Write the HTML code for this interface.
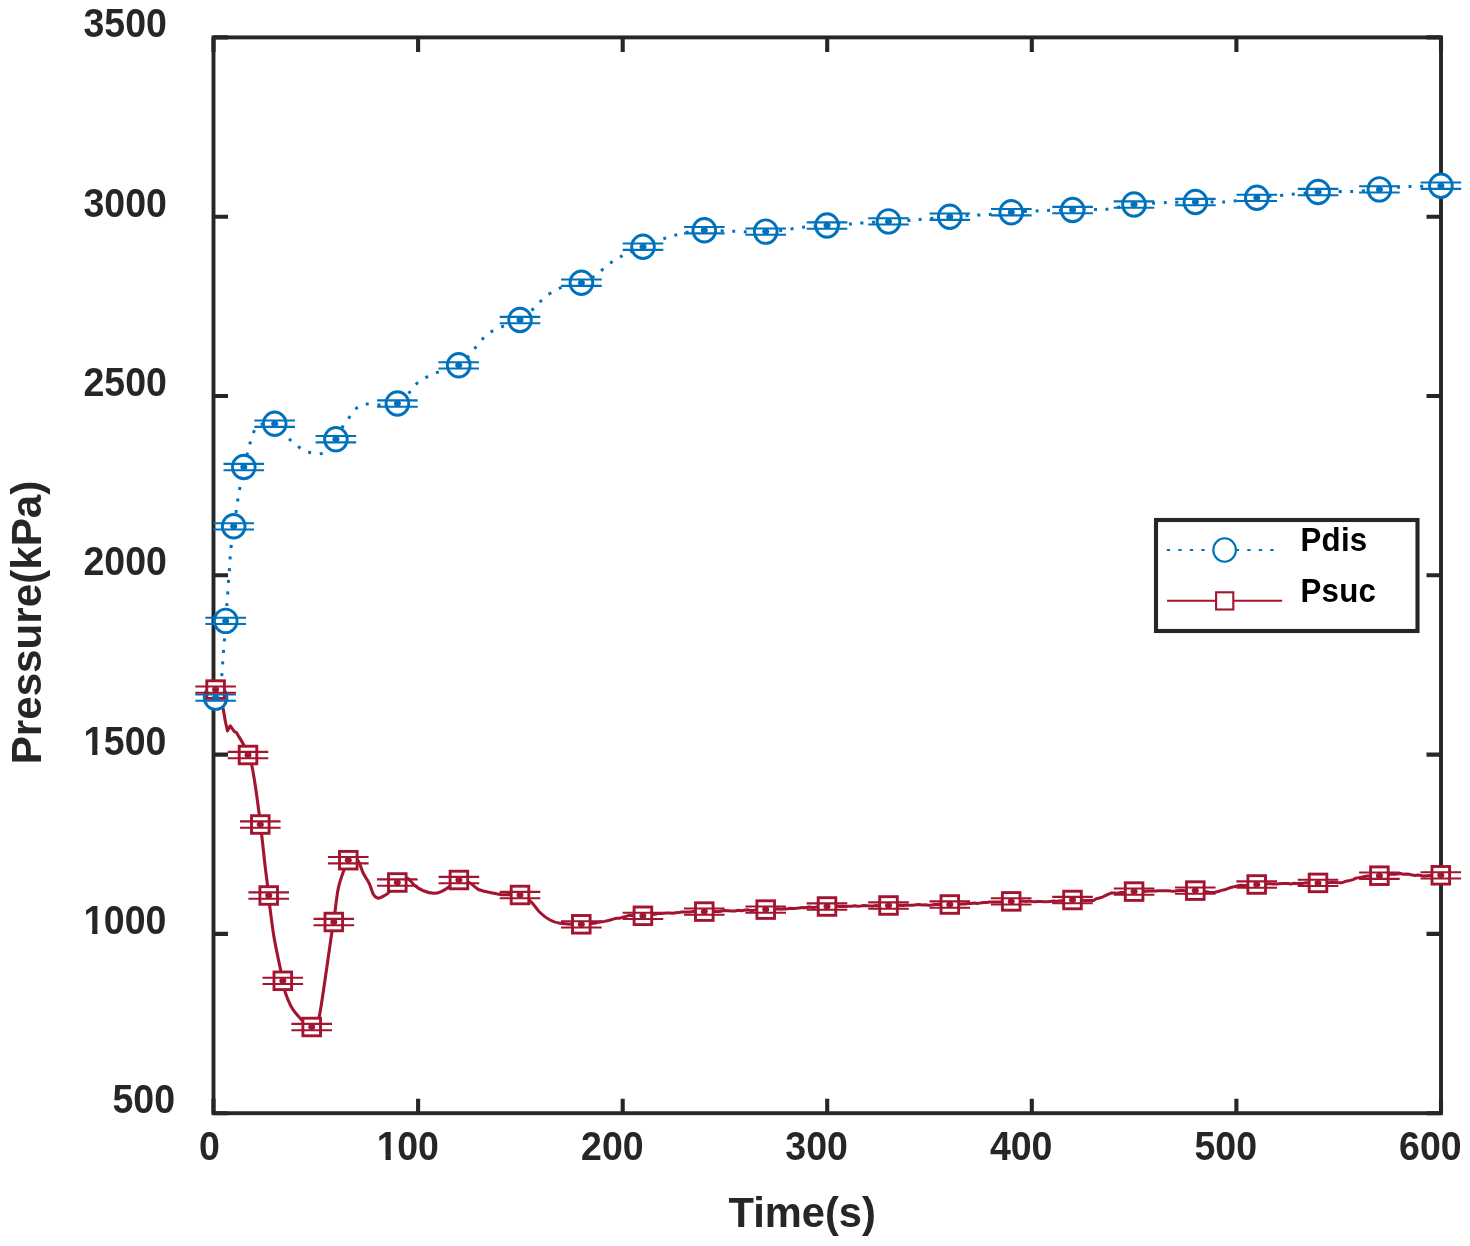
<!DOCTYPE html>
<html lang="en"><head><meta charset="utf-8"><title>Pressure vs Time</title>
<style>html,body{margin:0;padding:0;background:#fff}svg{display:block}</style></head><body>
<svg width="1470" height="1246" viewBox="0 0 1470 1246">
<rect width="1470" height="1246" fill="#fff"/>
<g stroke="#262626" stroke-width="4.1" fill="none" stroke-linecap="butt">
<rect x="213.5" y="37.4" width="1227.5" height="1075.8" stroke-width="3.9"/>
<path d="M213.5 1113.2 V1098.7 M213.5 37.4 V51.9"/>
<path d="M213.5 1113.2 H228.0 M1441.0 1113.2 H1426.5"/>
<path d="M418.1 1113.2 V1098.7 M418.1 37.4 V51.9"/>
<path d="M213.5 933.9 H228.0 M1441.0 933.9 H1426.5"/>
<path d="M622.7 1113.2 V1098.7 M622.7 37.4 V51.9"/>
<path d="M213.5 754.6 H228.0 M1441.0 754.6 H1426.5"/>
<path d="M827.2 1113.2 V1098.7 M827.2 37.4 V51.9"/>
<path d="M213.5 575.3 H228.0 M1441.0 575.3 H1426.5"/>
<path d="M1031.8 1113.2 V1098.7 M1031.8 37.4 V51.9"/>
<path d="M213.5 396.0 H228.0 M1441.0 396.0 H1426.5"/>
<path d="M1236.4 1113.2 V1098.7 M1236.4 37.4 V51.9"/>
<path d="M213.5 216.7 H228.0 M1441.0 216.7 H1426.5"/>
<path d="M1441.0 1113.2 V1098.7 M1441.0 37.4 V51.9"/>
<path d="M213.5 37.4 H228.0 M1441.0 37.4 H1426.5"/>
</g>
<g font-family="Liberation Sans, Arial, Helvetica, sans-serif" font-weight="bold" font-size="37.5" fill="#262626">
<text transform="translate(199.10 1160.00) scale(1 1.06)">0</text>
<text transform="translate(376.80 1160.00) scale(1 1.06)">1</text><rect x="377.70" y="1154.80" width="7.8" height="6.4" fill="#fff"/><rect x="390.75" y="1154.80" width="6.6" height="6.4" fill="#fff"/><text transform="translate(397.15 1160.00) scale(1 1.06)">00</text>
<text transform="translate(581.10 1160.00) scale(1 1.06)">200</text>
<text transform="translate(785.30 1160.00) scale(1 1.06)">300</text>
<text transform="translate(989.90 1160.00) scale(1 1.06)">400</text>
<text transform="translate(1194.50 1160.00) scale(1 1.06)">500</text>
<text transform="translate(1399.10 1160.00) scale(1 1.06)">600</text>
<text transform="translate(83.50 37.30) scale(1 1.06)">3500</text>
<text transform="translate(83.50 216.60) scale(1 1.06)">3000</text>
<text transform="translate(83.50 395.90) scale(1 1.06)">2500</text>
<text transform="translate(83.50 575.20) scale(1 1.06)">2000</text>
<text transform="translate(83.50 754.50) scale(1 1.06)">1</text><rect x="84.40" y="749.30" width="7.8" height="6.4" fill="#fff"/><rect x="97.45" y="749.30" width="6.6" height="6.4" fill="#fff"/><text transform="translate(103.85 754.50) scale(1 1.06)">500</text>
<text transform="translate(83.50 933.80) scale(1 1.06)">1</text><rect x="84.40" y="928.60" width="7.8" height="6.4" fill="#fff"/><rect x="97.45" y="928.60" width="6.6" height="6.4" fill="#fff"/><text transform="translate(103.85 933.80) scale(1 1.06)">000</text>
<text transform="translate(112.50 1113.10) scale(1 1.06)">500</text>
</g>
<g font-family="Liberation Sans, Arial, Helvetica, sans-serif" font-weight="bold" font-size="41.67" fill="#262626">
<text transform="translate(728.50 1226.60) scale(1 1.03)">Time(s)</text>
<text transform="translate(41.2,764.3) rotate(-90) scale(1.012 1)">Pressure(kPa)</text>
</g>
<path d="M215.60 697.60 C216.25 697.00 218.57 695.93 219.50 694.00 C220.43 692.07 220.80 689.25 221.20 686.00 C221.60 682.75 221.65 678.38 221.90 674.50 C222.15 670.62 222.43 666.57 222.70 662.70 C222.97 658.83 223.20 655.18 223.50 651.30 C223.80 647.42 224.13 644.47 224.50 639.40 C224.87 634.33 225.30 626.77 225.70 620.90 C226.10 615.03 226.55 608.97 226.90 604.20 C227.25 599.43 227.53 596.23 227.80 592.30 C228.07 588.37 228.22 584.53 228.50 580.60 C228.78 576.67 229.22 572.63 229.50 568.70 C229.78 564.77 229.90 560.95 230.20 557.00 C230.50 553.05 230.72 550.12 231.30 545.00 C231.88 539.88 232.87 532.08 233.70 526.30 C234.53 520.52 235.58 514.90 236.30 510.30 C237.02 505.70 237.38 502.55 238.00 498.70 C238.62 494.85 239.03 492.48 240.00 487.20 C240.97 481.92 242.55 472.73 243.80 467.00 C245.05 461.27 246.38 457.02 247.50 452.80 C248.62 448.58 249.30 445.50 250.50 441.70 C251.70 437.90 253.12 432.78 254.70 430.00 C256.28 427.22 257.95 426.12 260.00 425.00 C262.05 423.88 264.55 423.52 267.00 423.30 C269.45 423.08 272.20 422.42 274.70 423.70 C277.20 424.98 279.50 428.37 282.00 431.00 C284.50 433.63 286.92 436.83 289.70 439.50 C292.48 442.17 295.52 444.88 298.70 447.00 C301.88 449.12 305.25 451.07 308.80 452.20 C312.35 453.33 316.63 454.33 320.00 453.80 C323.37 453.27 326.35 451.43 329.00 449.00 C331.65 446.57 333.78 442.65 335.90 439.20 C338.02 435.75 339.63 431.72 341.70 428.30 C343.77 424.88 346.03 421.88 348.30 418.70 C350.57 415.52 352.52 411.62 355.30 409.20 C358.08 406.78 361.43 404.90 365.00 404.20 C368.57 403.50 372.87 404.90 376.70 405.00 C380.53 405.10 384.55 405.05 388.00 404.80 C391.45 404.55 394.07 405.27 397.40 403.50 C400.73 401.73 405.07 397.28 408.00 394.20 C410.93 391.12 412.25 387.65 415.00 385.00 C417.75 382.35 421.22 380.25 424.50 378.30 C427.78 376.35 430.95 374.77 434.70 373.30 C438.45 371.83 443.00 370.83 447.00 369.50 C451.00 368.17 455.53 367.05 458.70 365.30 C461.87 363.55 463.57 361.47 466.00 359.00 C468.43 356.53 470.88 353.47 473.30 350.50 C475.72 347.53 477.92 344.07 480.50 341.20 C483.08 338.33 485.77 335.50 488.80 333.30 C491.83 331.10 495.17 329.55 498.70 328.00 C502.23 326.45 506.45 325.33 510.00 324.00 C513.55 322.67 516.83 321.83 520.00 320.00 C523.17 318.17 526.08 315.58 529.00 313.00 C531.92 310.42 534.70 307.28 537.50 304.50 C540.30 301.72 542.75 298.67 545.80 296.30 C548.85 293.93 552.88 291.90 555.80 290.30 C558.72 288.70 560.60 287.67 563.30 286.70 C566.00 285.73 568.98 285.17 572.00 284.50 C575.02 283.83 578.40 283.62 581.40 282.70 C584.40 281.78 587.18 280.57 590.00 279.00 C592.82 277.43 595.47 275.55 598.30 273.30 C601.13 271.05 604.00 267.85 607.00 265.50 C610.00 263.15 613.08 261.15 616.30 259.20 C619.52 257.25 621.85 255.88 626.30 253.80 C630.75 251.72 637.75 248.90 643.00 246.70 C648.25 244.50 653.37 242.23 657.80 240.60 C662.23 238.97 665.70 238.08 669.60 236.90 C673.50 235.72 677.30 234.45 681.20 233.50 C685.10 232.55 689.15 231.75 693.00 231.20 C696.85 230.65 698.78 230.23 704.30 230.20 C709.82 230.17 720.60 230.80 726.10 231.00 C731.60 231.20 733.55 231.23 737.30 231.40 C741.05 231.57 743.87 231.97 748.60 232.00 C753.33 232.03 759.92 231.87 765.70 231.60 C771.48 231.33 778.50 230.93 783.30 230.40 C788.10 229.87 790.77 228.98 794.50 228.40 C798.23 227.82 800.28 227.38 805.70 226.90 C811.12 226.42 819.35 226.00 827.00 225.50 C834.65 225.00 845.62 224.33 851.60 223.90 C857.58 223.47 856.75 223.32 862.90 222.90 C869.05 222.48 880.85 221.82 888.50 221.40 C896.15 220.98 903.55 220.73 908.80 220.40 C914.05 220.07 913.17 220.02 920.00 219.40 C926.83 218.78 940.20 217.42 949.80 216.70 C959.40 215.98 971.03 215.47 977.60 215.10 C984.17 214.73 983.58 214.98 989.20 214.50 C994.82 214.02 1003.72 212.78 1011.30 212.20 C1018.88 211.62 1028.83 211.30 1034.70 211.00 C1040.57 210.70 1040.18 210.57 1046.50 210.40 C1052.82 210.23 1065.05 210.17 1072.60 210.00 C1080.15 209.83 1086.62 209.47 1091.80 209.40 C1096.98 209.33 1099.33 209.92 1103.70 209.60 C1108.07 209.28 1112.95 208.35 1118.00 207.50 C1123.05 206.65 1126.80 205.27 1134.00 204.50 C1141.20 203.73 1154.80 203.25 1161.20 202.90 C1167.60 202.55 1166.70 202.55 1172.40 202.40 C1178.10 202.25 1187.77 202.07 1195.40 202.00 C1203.03 201.93 1212.50 202.07 1218.20 202.00 C1223.90 201.93 1223.17 202.30 1229.60 201.60 C1236.03 200.90 1247.35 198.92 1256.80 197.80 C1266.25 196.68 1276.08 195.87 1286.30 194.90 C1296.52 193.93 1308.57 192.58 1318.10 192.00 C1327.63 191.42 1337.30 191.50 1343.50 191.40 C1349.70 191.30 1349.32 191.73 1355.30 191.40 C1361.28 191.07 1371.85 190.15 1379.40 189.40 C1386.95 188.65 1395.10 187.38 1400.60 186.90 C1406.10 186.42 1405.68 186.70 1412.40 186.50 C1419.12 186.30 1436.15 185.83 1440.90 185.70" fill="none" stroke="#0072BD" stroke-width="3.0" stroke-dasharray="3.0 8.7" stroke-linejoin="round"/>
<path d="M215.60 689.60 C216.33 691.33 218.77 696.88 220.00 700.00 C221.23 703.12 222.08 704.63 223.00 708.30 C223.92 711.97 224.75 718.25 225.50 722.00 L227.50 730.80 L228.50 729.00 L230.30 725.80 L232.80 729.30 C233.48 730.27 233.83 731.08 234.40 731.60 C234.97 732.12 235.57 731.75 236.20 732.40 C236.83 733.05 236.95 733.40 238.20 735.50 C239.45 737.60 242.07 741.75 243.70 745.00 C245.33 748.25 246.67 751.67 248.00 755.00 C249.33 758.33 250.45 759.67 251.70 765.00 C252.95 770.33 254.25 778.80 255.50 787.00 C256.75 795.20 258.40 807.95 259.20 814.20 C260.00 820.45 259.88 821.03 260.30 824.50 C260.72 827.97 260.87 827.80 261.70 835.00 C262.53 842.20 264.33 859.37 265.30 867.70 C266.27 876.03 266.93 880.37 267.50 885.00 C268.07 889.63 268.33 892.03 268.70 895.50 C269.07 898.97 268.78 898.67 269.70 905.80 C270.62 912.93 272.35 927.47 274.20 938.30 C276.05 949.13 279.37 963.72 280.80 970.80 C282.23 977.88 282.15 977.47 282.80 980.80 C283.45 984.13 283.22 986.35 284.70 990.80 C286.18 995.25 288.87 1002.63 291.70 1007.50 C294.53 1012.37 298.98 1016.92 301.70 1020.00 C304.42 1023.08 306.33 1024.75 308.00 1026.00 C309.67 1027.25 310.53 1027.67 311.70 1027.50 C312.87 1027.33 313.75 1026.80 315.00 1025.00 C316.25 1023.20 317.53 1024.20 319.20 1016.70 C320.87 1009.20 322.92 993.90 325.00 980.00 C327.08 966.10 330.23 942.97 331.70 933.30 C333.17 923.63 333.25 925.60 333.80 922.00 C334.35 918.40 334.25 917.32 335.00 911.70 C335.75 906.08 336.85 895.12 338.30 888.30 C339.75 881.48 342.03 875.48 343.70 870.80 C345.37 866.12 346.67 862.42 348.30 860.20 C349.93 857.98 351.77 857.25 353.50 857.50 C355.23 857.75 357.07 859.07 358.70 861.70 C360.33 864.33 361.55 869.70 363.30 873.30 C365.05 876.90 367.53 879.82 369.20 883.30 C370.87 886.78 371.92 891.75 373.30 894.20 C374.68 896.65 376.10 897.53 377.50 898.00 C378.90 898.47 379.90 897.83 381.70 897.00 C383.50 896.17 386.42 894.83 388.30 893.00 C390.18 891.17 391.22 888.33 393.00 886.00 C394.78 883.67 396.58 880.28 399.00 879.00 C401.42 877.72 404.83 877.17 407.50 878.30 C410.17 879.43 412.37 883.72 415.00 885.80 C417.63 887.88 420.10 889.55 423.30 890.80 C426.50 892.05 431.13 893.22 434.20 893.30 C437.27 893.38 439.20 892.40 441.70 891.30 C444.20 890.20 446.98 888.33 449.20 886.70 C451.42 885.07 453.20 882.70 455.00 881.50 C456.80 880.30 457.63 879.33 460.00 879.50 C462.37 879.67 466.42 881.03 469.20 882.50 C471.98 883.97 474.90 887.05 476.70 888.30 C478.50 889.55 477.78 889.30 480.00 890.00 C482.22 890.70 486.38 891.72 490.00 892.50 C493.62 893.28 496.70 894.28 501.70 894.70 C506.70 895.12 515.15 893.83 520.00 895.00 C524.85 896.17 527.47 898.78 530.80 901.70 C534.13 904.62 536.80 909.45 540.00 912.50 C543.20 915.55 546.67 918.20 550.00 920.00 C553.33 921.80 554.78 922.58 560.00 923.30 C565.22 924.02 574.92 924.43 581.30 924.30 C587.68 924.17 595.47 922.80 598.30 922.50" fill="none" stroke="#A2142F" stroke-width="3.1" stroke-linejoin="round"/>
<polyline points="598.3,922.5 601.3,921.7 604.3,921.4 607.3,920.8 610.3,920.0 613.3,919.1 616.3,918.2 619.3,918.3 622.3,917.3 625.3,916.7 628.3,915.6 631.2,915.6 634.1,915.8 637.1,915.7 640.0,915.7 642.9,915.6 645.9,915.7 649.0,914.8 652.0,914.4 655.0,914.3 658.0,913.5 660.9,913.6 663.9,913.3 666.9,913.0 669.9,913.0 672.8,913.3 675.8,912.7 678.8,912.6 681.7,912.0 684.7,912.0 687.5,911.9 690.3,912.0 693.1,911.6 695.9,911.4 698.7,912.0 701.5,911.4 704.3,911.5 707.4,911.5 710.4,911.7 713.5,911.6 716.6,911.4 719.6,911.5 722.7,910.7 725.8,910.6 728.9,910.7 731.9,910.9 735.0,911.0 738.1,910.2 741.1,910.7 744.2,910.3 747.3,909.8 750.4,910.4 753.4,910.4 756.5,909.6 759.6,909.5 762.6,909.5 765.7,909.3 768.8,909.9 771.8,909.3 774.9,909.3 778.0,908.7 781.0,909.3 784.1,908.7 787.2,908.9 790.2,908.3 793.3,908.4 796.4,908.2 799.4,907.9 802.5,907.6 805.5,907.8 808.6,907.0 811.7,907.3 814.7,907.4 817.8,906.8 820.9,906.6 823.9,906.9 827.0,906.1 830.1,906.9 833.1,906.7 836.2,906.0 839.3,906.4 842.4,906.2 845.5,906.6 848.5,906.2 851.6,906.2 854.7,905.7 857.8,906.2 860.8,906.1 863.9,905.6 867.0,905.7 870.0,906.0 873.1,905.9 876.2,905.6 879.3,906.1 882.4,905.9 885.4,906.0 888.5,905.1 891.6,905.7 894.6,905.1 897.7,905.4 900.8,905.2 903.8,905.4 906.9,905.1 910.0,905.2 913.0,905.2 916.1,904.8 919.1,904.6 922.2,905.1 925.3,904.8 928.3,905.2 931.4,905.0 934.5,904.6 937.5,904.6 940.6,904.3 943.7,904.5 946.7,904.5 949.8,904.6 952.9,904.6 955.9,903.9 959.0,904.3 962.1,904.1 965.1,903.9 968.2,903.4 971.3,903.6 974.4,903.1 977.4,903.6 980.5,902.9 983.6,902.4 986.6,902.6 989.7,902.1 992.8,902.1 995.9,902.0 998.9,901.9 1002.0,901.8 1005.1,901.9 1008.1,901.6 1011.2,901.3 1014.2,901.5 1017.2,901.0 1020.2,901.2 1023.1,901.1 1026.1,901.5 1029.1,901.0 1032.1,901.4 1035.1,901.7 1038.1,901.5 1041.0,901.4 1044.0,901.7 1047.0,901.8 1050.0,901.6 1052.8,901.0 1055.6,901.3 1058.4,901.1 1061.2,900.7 1064.1,900.8 1066.9,900.0 1069.7,900.1 1072.5,899.8 1075.5,900.3 1078.4,900.5 1081.4,900.1 1084.4,900.5 1087.4,900.6 1090.3,900.5 1093.3,900.6 1096.3,898.8 1099.4,898.0 1102.4,897.1 1105.5,895.5 1108.5,894.2 1111.6,893.0 1114.4,893.0 1117.2,893.3 1120.0,892.6 1122.8,892.4 1125.7,892.2 1128.5,891.8 1131.3,892.0 1134.1,891.3 1137.2,891.4 1140.2,891.7 1143.3,891.6 1146.3,891.3 1149.4,891.0 1152.5,890.9 1155.5,891.1 1158.6,890.8 1161.6,890.7 1164.7,890.8 1167.8,890.8 1170.8,891.1 1173.9,891.2 1176.9,890.8 1180.0,890.6 1183.1,890.4 1186.1,891.1 1189.2,890.7 1192.2,890.9 1195.3,891.0 1198.1,891.2 1200.9,890.9 1203.7,891.6 1206.5,891.7 1209.3,892.2 1212.1,892.4 1214.9,892.3 1218.1,891.5 1221.3,890.4 1224.5,889.8 1227.7,888.6 1230.9,887.5 1234.1,886.8 1237.3,886.0 1240.5,885.2 1243.8,885.6 1247.0,885.5 1250.2,884.6 1253.5,885.1 1256.7,884.4 1259.9,884.2 1263.1,884.3 1266.3,883.9 1269.6,883.7 1272.8,883.9 1276.0,884.0 1279.0,883.7 1282.0,883.4 1285.0,883.4 1288.0,883.5 1291.0,884.0 1294.0,883.2 1297.0,883.5 1300.0,883.3 1303.0,883.4 1306.0,882.8 1309.0,883.1 1312.0,882.6 1315.0,882.6 1318.0,883.3 1320.9,883.0 1323.8,882.6 1326.8,882.8 1329.7,882.6 1332.6,882.3 1335.6,882.5 1338.5,882.8 1341.4,882.8 1344.3,881.8 1347.2,880.9 1350.1,880.4 1353.1,879.6 1356.0,878.1 1358.9,877.7 1361.8,877.1 1364.7,876.5 1367.7,876.1 1370.6,876.1 1373.5,876.5 1376.5,876.1 1379.4,875.7 1382.4,875.2 1385.5,875.5 1388.5,874.8 1391.5,874.1 1394.5,874.2 1397.6,874.0 1400.6,873.5 1403.5,874.3 1406.4,874.1 1409.3,874.2 1412.3,875.1 1415.2,875.5 1418.1,875.0 1421.0,875.5 1423.8,875.9 1426.7,875.7 1429.5,875.5 1432.3,875.2 1435.1,875.5 1438.0,875.1 1440.8,875.3" fill="none" stroke="#A2142F" stroke-width="3.0" stroke-linejoin="round"/>
<g fill="#fff" stroke="#0072BD" stroke-width="2.9">
<ellipse cx="215.6" cy="697.6" rx="11.35" ry="11.75"/>
<ellipse cx="225.7" cy="620.9" rx="11.35" ry="11.75"/>
<ellipse cx="233.7" cy="526.3" rx="11.35" ry="11.75"/>
<ellipse cx="243.8" cy="467" rx="11.35" ry="11.75"/>
<ellipse cx="274.7" cy="423.7" rx="11.35" ry="11.75"/>
<ellipse cx="335.9" cy="439.2" rx="11.35" ry="11.75"/>
<ellipse cx="397.4" cy="403.5" rx="11.35" ry="11.75"/>
<ellipse cx="458.7" cy="365.3" rx="11.35" ry="11.75"/>
<ellipse cx="520" cy="320" rx="11.35" ry="11.75"/>
<ellipse cx="581.4" cy="282.7" rx="11.35" ry="11.75"/>
<ellipse cx="643" cy="246.7" rx="11.35" ry="11.75"/>
<ellipse cx="704.3" cy="230.2" rx="11.35" ry="11.75"/>
<ellipse cx="765.7" cy="231.6" rx="11.35" ry="11.75"/>
<ellipse cx="827" cy="225.5" rx="11.35" ry="11.75"/>
<ellipse cx="888.5" cy="221.4" rx="11.35" ry="11.75"/>
<ellipse cx="949.8" cy="216.7" rx="11.35" ry="11.75"/>
<ellipse cx="1011.3" cy="212.2" rx="11.35" ry="11.75"/>
<ellipse cx="1072.6" cy="210" rx="11.35" ry="11.75"/>
<ellipse cx="1134" cy="204.5" rx="11.35" ry="11.75"/>
<ellipse cx="1195.4" cy="202" rx="11.35" ry="11.75"/>
<ellipse cx="1256.8" cy="197.8" rx="11.35" ry="11.75"/>
<ellipse cx="1318.1" cy="192" rx="11.35" ry="11.75"/>
<ellipse cx="1379.4" cy="189.4" rx="11.35" ry="11.75"/>
<ellipse cx="1440.9" cy="185.7" rx="11.35" ry="11.75"/>
</g>
<g fill="#fff" stroke="#A2142F" stroke-width="2.9">
<rect x="206.8" y="680.8" width="17.6" height="17.6"/>
<rect x="239.2" y="746.2" width="17.6" height="17.6"/>
<rect x="251.5" y="815.7" width="17.6" height="17.6"/>
<rect x="259.9" y="886.7" width="17.6" height="17.6"/>
<rect x="274.0" y="972.0" width="17.6" height="17.6"/>
<rect x="302.9" y="1018.2" width="17.6" height="17.6"/>
<rect x="325.0" y="913.2" width="17.6" height="17.6"/>
<rect x="339.5" y="851.4" width="17.6" height="17.6"/>
<rect x="388.5" y="873.7" width="17.6" height="17.6"/>
<rect x="450.1" y="871.2" width="17.6" height="17.6"/>
<rect x="511.2" y="886.2" width="17.6" height="17.6"/>
<rect x="572.5" y="915.5" width="17.6" height="17.6"/>
<rect x="634.1" y="907.0" width="17.6" height="17.6"/>
<rect x="695.5" y="902.8" width="17.6" height="17.6"/>
<rect x="756.9" y="900.8" width="17.6" height="17.6"/>
<rect x="818.2" y="897.7" width="17.6" height="17.6"/>
<rect x="879.7" y="896.7" width="17.6" height="17.6"/>
<rect x="941.0" y="895.7" width="17.6" height="17.6"/>
<rect x="1002.4" y="892.6" width="17.6" height="17.6"/>
<rect x="1063.7" y="891.2" width="17.6" height="17.6"/>
<rect x="1125.3" y="882.8" width="17.6" height="17.6"/>
<rect x="1186.5" y="881.8" width="17.6" height="17.6"/>
<rect x="1247.9" y="875.7" width="17.6" height="17.6"/>
<rect x="1309.2" y="874.1" width="17.6" height="17.6"/>
<rect x="1370.6" y="866.9" width="17.6" height="17.6"/>
<rect x="1432.0" y="866.5" width="17.6" height="17.6"/>
</g>
<g fill="#0072BD">
<path d="M195.3 694.45h40.6M195.3 700.75h40.6M205.4 617.75h40.6M205.4 624.05h40.6M213.4 523.15h40.6M213.4 529.45h40.6M223.5 463.85h40.6M223.5 470.15h40.6M254.4 420.55h40.6M254.4 426.85h40.6M315.6 436.05h40.6M315.6 442.35h40.6M377.1 400.35h40.6M377.1 406.65h40.6M438.4 362.15h40.6M438.4 368.45h40.6M499.7 316.85h40.6M499.7 323.15h40.6M561.1 279.55h40.6M561.1 285.85h40.6M622.7 243.55h40.6M622.7 249.85h40.6M684.0 227.05h40.6M684.0 233.35h40.6M745.4 228.45h40.6M745.4 234.75h40.6M806.7 222.35h40.6M806.7 228.65h40.6M868.2 218.25h40.6M868.2 224.55h40.6M929.5 213.55h40.6M929.5 219.85h40.6M991.0 209.05h40.6M991.0 215.35h40.6M1052.3 206.85h40.6M1052.3 213.15h40.6M1113.7 201.35h40.6M1113.7 207.65h40.6M1175.1 198.85h40.6M1175.1 205.15h40.6M1236.5 194.65h40.6M1236.5 200.95h40.6M1297.8 188.85h40.6M1297.8 195.15h40.6M1359.1 186.25h40.6M1359.1 192.55h40.6M1420.6 182.55h40.6M1420.6 188.85h40.6" fill="none" stroke="#0072BD" stroke-width="2.05"/>
<ellipse cx="215.6" cy="697.6" rx="3.5" ry="3.0"/>
<ellipse cx="225.7" cy="620.9" rx="3.5" ry="3.0"/>
<ellipse cx="233.7" cy="526.3" rx="3.5" ry="3.0"/>
<ellipse cx="243.8" cy="467" rx="3.5" ry="3.0"/>
<ellipse cx="274.7" cy="423.7" rx="3.5" ry="3.0"/>
<ellipse cx="335.9" cy="439.2" rx="3.5" ry="3.0"/>
<ellipse cx="397.4" cy="403.5" rx="3.5" ry="3.0"/>
<ellipse cx="458.7" cy="365.3" rx="3.5" ry="3.0"/>
<ellipse cx="520" cy="320" rx="3.5" ry="3.0"/>
<ellipse cx="581.4" cy="282.7" rx="3.5" ry="3.0"/>
<ellipse cx="643" cy="246.7" rx="3.5" ry="3.0"/>
<ellipse cx="704.3" cy="230.2" rx="3.5" ry="3.0"/>
<ellipse cx="765.7" cy="231.6" rx="3.5" ry="3.0"/>
<ellipse cx="827" cy="225.5" rx="3.5" ry="3.0"/>
<ellipse cx="888.5" cy="221.4" rx="3.5" ry="3.0"/>
<ellipse cx="949.8" cy="216.7" rx="3.5" ry="3.0"/>
<ellipse cx="1011.3" cy="212.2" rx="3.5" ry="3.0"/>
<ellipse cx="1072.6" cy="210" rx="3.5" ry="3.0"/>
<ellipse cx="1134" cy="204.5" rx="3.5" ry="3.0"/>
<ellipse cx="1195.4" cy="202" rx="3.5" ry="3.0"/>
<ellipse cx="1256.8" cy="197.8" rx="3.5" ry="3.0"/>
<ellipse cx="1318.1" cy="192" rx="3.5" ry="3.0"/>
<ellipse cx="1379.4" cy="189.4" rx="3.5" ry="3.0"/>
<ellipse cx="1440.9" cy="185.7" rx="3.5" ry="3.0"/>
</g>
<g fill="#A2142F">
<path d="M195.3 686.45h40.6M195.3 692.75h40.6M227.7 751.85h40.6M227.7 758.15h40.6M240.0 821.35h40.6M240.0 827.65h40.6M248.4 892.35h40.6M248.4 898.65h40.6M262.5 977.65h40.6M262.5 983.95h40.6M291.4 1023.85h40.6M291.4 1030.15h40.6M313.5 918.85h40.6M313.5 925.15h40.6M328.0 857.05h40.6M328.0 863.35h40.6M377.0 879.35h40.6M377.0 885.65h40.6M438.6 876.85h40.6M438.6 883.15h40.6M499.7 891.85h40.6M499.7 898.15h40.6M561.0 921.15h40.6M561.0 927.45h40.6M622.6 912.65h40.6M622.6 918.95h40.6M684.0 908.45h40.6M684.0 914.75h40.6M745.4 906.45h40.6M745.4 912.75h40.6M806.7 903.35h40.6M806.7 909.65h40.6M868.2 902.35h40.6M868.2 908.65h40.6M929.5 901.35h40.6M929.5 907.65h40.6M990.9 898.25h40.6M990.9 904.55h40.6M1052.2 896.85h40.6M1052.2 903.15h40.6M1113.8 888.45h40.6M1113.8 894.75h40.6M1175.0 887.45h40.6M1175.0 893.75h40.6M1236.4 881.35h40.6M1236.4 887.65h40.6M1297.7 879.75h40.6M1297.7 886.05h40.6M1359.1 872.55h40.6M1359.1 878.85h40.6M1420.5 872.15h40.6M1420.5 878.45h40.6" fill="none" stroke="#A2142F" stroke-width="2.05"/>
<ellipse cx="215.6" cy="689.6" rx="3.5" ry="3.0"/>
<ellipse cx="248" cy="755" rx="3.5" ry="3.0"/>
<ellipse cx="260.3" cy="824.5" rx="3.5" ry="3.0"/>
<ellipse cx="268.7" cy="895.5" rx="3.5" ry="3.0"/>
<ellipse cx="282.8" cy="980.8" rx="3.5" ry="3.0"/>
<ellipse cx="311.7" cy="1027" rx="3.5" ry="3.0"/>
<ellipse cx="333.8" cy="922" rx="3.5" ry="3.0"/>
<ellipse cx="348.3" cy="860.2" rx="3.5" ry="3.0"/>
<ellipse cx="397.3" cy="882.5" rx="3.5" ry="3.0"/>
<ellipse cx="458.9" cy="880" rx="3.5" ry="3.0"/>
<ellipse cx="520" cy="895" rx="3.5" ry="3.0"/>
<ellipse cx="581.3" cy="924.3" rx="3.5" ry="3.0"/>
<ellipse cx="642.9" cy="915.8" rx="3.5" ry="3.0"/>
<ellipse cx="704.3" cy="911.6" rx="3.5" ry="3.0"/>
<ellipse cx="765.7" cy="909.6" rx="3.5" ry="3.0"/>
<ellipse cx="827" cy="906.5" rx="3.5" ry="3.0"/>
<ellipse cx="888.5" cy="905.5" rx="3.5" ry="3.0"/>
<ellipse cx="949.8" cy="904.5" rx="3.5" ry="3.0"/>
<ellipse cx="1011.2" cy="901.4" rx="3.5" ry="3.0"/>
<ellipse cx="1072.5" cy="900" rx="3.5" ry="3.0"/>
<ellipse cx="1134.1" cy="891.6" rx="3.5" ry="3.0"/>
<ellipse cx="1195.3" cy="890.6" rx="3.5" ry="3.0"/>
<ellipse cx="1256.7" cy="884.5" rx="3.5" ry="3.0"/>
<ellipse cx="1318" cy="882.9" rx="3.5" ry="3.0"/>
<ellipse cx="1379.4" cy="875.7" rx="3.5" ry="3.0"/>
<ellipse cx="1440.8" cy="875.3" rx="3.5" ry="3.0"/>
</g>
<rect x="1156" y="520" width="261.5" height="111" fill="#fff" stroke="#262626" stroke-width="4.1"/>
<path d="M1166.8 550H1275" stroke="#0072BD" stroke-width="2.1" stroke-dasharray="3.3 8.2" fill="none"/>
<ellipse cx="1224.6" cy="550.0" rx="11.3" ry="11.7" fill="#fff" stroke="#0072BD" stroke-width="2.1"/>
<path d="M1167.1 600.7H1282.2" stroke="#A2142F" stroke-width="2.1" fill="none"/>
<rect x="1216.1" y="592.3" width="17.2" height="17.2" fill="#fff" stroke="#A2142F" stroke-width="2.1"/>
<g font-family="Liberation Sans, Arial, Helvetica, sans-serif" font-weight="bold" font-size="31.25" letter-spacing="0.25" fill="#000"><text transform="translate(1300.50 550.70) scale(1 1.05)">Pdis</text><text transform="translate(1300.50 601.70) scale(1 1.05)">Psuc</text></g>
</svg></body></html>
